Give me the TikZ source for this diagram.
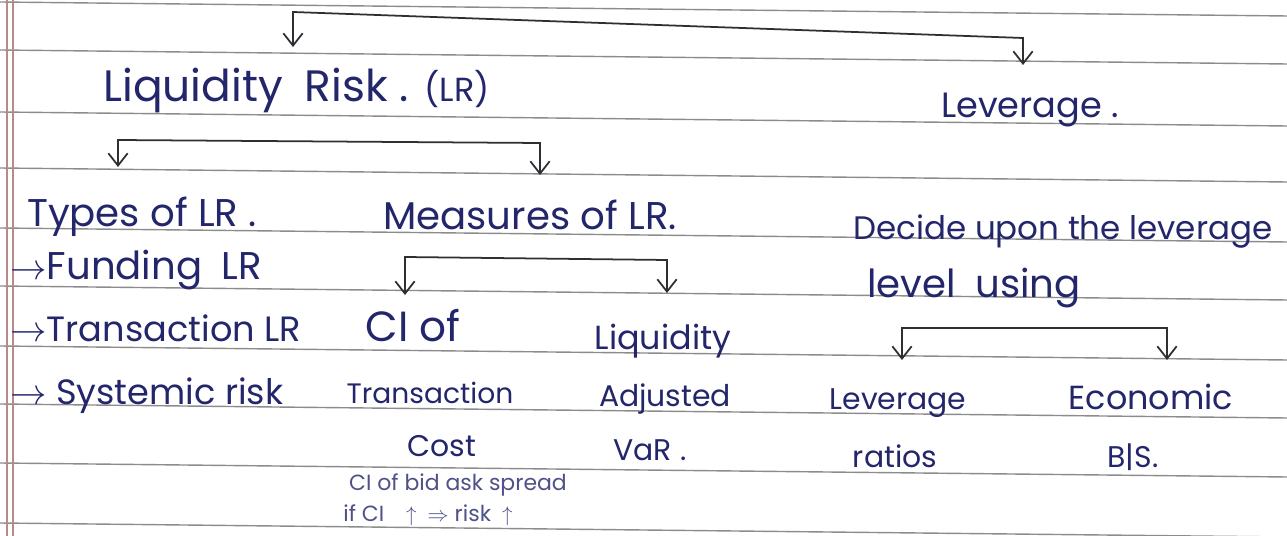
\documentclass[tikz,border=0pt]{standalone}
\usepackage{fontspec}
\setmainfont{Poppins}
\usepackage{tikz}
\usetikzlibrary{arrows.meta}
\definecolor{ink}{HTML}{23266A}
\definecolor{pen}{HTML}{2E2E33}
\definecolor{paperline}{HTML}{8C8C8C}
\definecolor{margin}{HTML}{B98A8A}
\newcommand{\fs}[1]{\fontsize{#1}{#1}\selectfont}

\begin{document}
\begin{tikzpicture}[x=0.02cm,y=-0.02cm,
  hand/.style={font=\fs{22},text=ink,inner sep=0pt,anchor=base},
  item/.style={hand,anchor=base west},
  low/.style={hand,font=\fs{17}},
  note/.style={hand,font=\fs{12.5},text=ink!80},
  brk/.style={draw=pen,line width=1pt,<->,>={Straight Barb[length=7pt,width=11pt]}},
  ruled/.style={draw=paperline,line width=0.8pt}]
\useasboundingbox[fill=white] (0,0) rectangle (1287,536);
% ruled paper
\foreach \y in {2,50,112,168,228,286,346,404,463,523}{
  \draw[ruled] (0,\y) -- (1287,\y+14);
}
\foreach \x in {7,13}{
  \draw[draw=margin,line width=0.6pt] (\x,0) -- (\x,536);
}
% level 1
\node[item,font=\fs{25}] (lr) at (103,102) {Liquidity\enspace Risk . {\fs{19}(LR)}};
\node[hand,font=\fs{20}] (lev) at (1030,118) {Leverage .};
% level 2
\node[hand] (types) at (142,227) {Types of LR .};
\node[hand] (meas) at (530,230) {Measures of LR.};
\node[item,font=\fs{18.5}] (decide) at (853,240) {Decide upon the leverage};
\node[item] (level) at (867,298) {level\enspace using};
% types of LR
\node[item] (fund) at (10,280) {$\rightarrow$Funding\enspace LR};
\node[item,font=\fs{20}] (trans) at (10,342) {$\rightarrow$Transaction LR};
\node[item,font=\fs{20}] (sys) at (10,405) {$\rightarrow$ Systemic risk};
% measures of LR
\node[hand,font=\fs{24}] (ci1) at (413,342) {CI of};
\node[low,font=\fs{16}] (ci2) at (430,403) {Transaction};
\node[low] (ci3) at (442,457) {Cost};
\node[low,font=\fs{19}] (lq1) at (663,350) {Liquidity};
\node[low] (lq2) at (665,407) {Adjusted};
\node[low] (lq3) at (650,460) {VaR .};
\node[note] (sp1) at (458,490) {CI of bid ask spread};
\node[note] (sp2) at (428,521) {if CI\enspace\enspace$\uparrow$\enspace$\Rightarrow$ risk\enspace$\uparrow$};
% leverage level
\node[low] (lv1) at (898,410) {Leverage};
\node[low] (lv2) at (895,467) {ratios};
\node[low,font=\fs{19}] (ec1) at (1151,410) {Economic};
\node[low] (ec2) at (1133,467) {B|S.};
% bracket ends
\coordinate (tA) at (293,47);  \coordinate (tB) at (293,12);
\coordinate (tC) at (1023,38); \coordinate (tD) at (1023,65);
\coordinate (lA) at (118,167); \coordinate (lB) at (118,140);
\coordinate (lC) at (540,143); \coordinate (lD) at (540,175);
\coordinate (mA) at (405,295); \coordinate (mB) at (405,257);
\coordinate (mC) at (667,260); \coordinate (mD) at (667,293);
\coordinate (vA) at (902,360); \coordinate (vB) at (902,328);
\coordinate (vC) at (1167,328); \coordinate (vD) at (1167,360);
\draw[brk] (tA) -- (tB) -- (tC) -- (tD);
\draw[brk] (lA) -- (lB) -- (lC) -- (lD);
\draw[brk] (mA) -- (mB) -- (mC) -- (mD);
\draw[brk] (vA) -- (vB) -- (vC) -- (vD);
\end{tikzpicture}
\end{document}
